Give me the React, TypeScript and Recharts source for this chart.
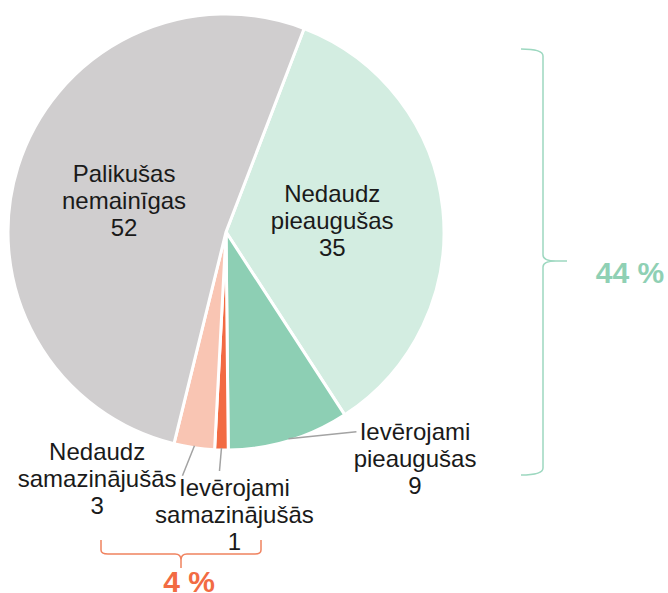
import { Cell, Pie, PieChart } from "recharts"

// Datos del grafico
const names = [
    "Nedaudz pieaugušas",
    "Ievērojami pieaugušas",
    "Ievērojami samazinājušās",
    "Nedaudz samazinājušās",
    "Palikušas nemainīgas",
]
const values = [35, 9, 1, 3, 52]
const COLORS = ['#d3ede1', '#8dcfb4', '#f26b43', '#f9c5b3', '#d0cecf']

const data = names.map((name, i) => ({ name, value: values[i] }))

const growth = values[0] + values[1]
const decline = values[2] + values[3]

// label layout: inside (r = fraction of radius) or outside (offsets from slice edge)
const LAYOUT = [
    { inside: true },
    { inside: false, line: [68, -7], text: [126, -9] },
    { inside: false, line: [-2, 23], text: [13, 38] },
    { inside: false, line: [-12, 30], text: [-97, 4] },
    { inside: true },
]

const RADIAN = Math.PI / 180
const FONT = "'Liberation Sans', Arial, sans-serif"
const LINE_H = 27

const renderLabel = (props: any) => {
    const { cx, cy, midAngle, outerRadius, index, name, value } = props
    const cfg = LAYOUT[index]
    const lines = [...String(name).split(" "), String(value)]
    let x: number, y: number
    if (cfg.inside) {
        const r = outerRadius * 0.49
        x = cx + r * Math.cos(-midAngle * RADIAN)
        y = cy + r * Math.sin(-midAngle * RADIAN) - LINE_H
    } else {
        const ex = cx + outerRadius * Math.cos(-midAngle * RADIAN)
        const ey = cy + outerRadius * Math.sin(-midAngle * RADIAN)
        x = ex + cfg.text![0]
        y = ey + cfg.text![1]
    }
    return (
        <text x={x} y={y} fill="#1a1a1a" fontFamily={FONT} fontSize={24} textAnchor="middle" key={`l-${index}`}>
            {lines.map((l, i) => (
                <tspan key={i} x={x} y={y + i * LINE_H} dominantBaseline="central">{l}</tspan>
            ))}
        </text>
    )
}

const renderLabelLine = (props: any) => {
    const { cx, cy, midAngle, outerRadius, index } = props
    const cfg = LAYOUT[index]
    if (cfg.inside) return <g key={`ll-${index}`} />
    const sx = cx + (outerRadius - 2) * Math.cos(-midAngle * RADIAN)
    const sy = cy + (outerRadius - 2) * Math.sin(-midAngle * RADIAN)
    return (
        <line key={`ll-${index}`} x1={sx} y1={sy} x2={sx + cfg.line![0]} y2={sy + cfg.line![1]}
            stroke="#a3a3a3" strokeWidth={1.5} />
    )
}

export default function App() {
    return (
        <div style={{ position: 'absolute', left: 0, top: 0, width: 668, height: 593, background: '#fff' }}>
            <PieChart width={668} height={593} margin={{ top: 0, right: 0, bottom: 0, left: 0 }}>
                <Pie data={data} dataKey="value" nameKey="name" cx={226} cy={232} outerRadius={218}
                    startAngle={69} endAngle={-291} stroke="#fff" strokeWidth={3}
                    label={renderLabel} labelLine={renderLabelLine} isAnimationActive={false}>
                    {data.map((entry, index) => (
                        <Cell key={`cell-${index}`} fill={COLORS[index]} />
                    ))}
                </Pie>
            </PieChart>
            <svg width={668} height={593} style={{ position: 'absolute', left: 0, top: 0, pointerEvents: 'none' }}>
                {/* green bracket */}
                <path d="M521 49 Q543 49 543 56 L543 255 Q543 261 556 261 L567 261 M556 261 Q543 261 543 267 L543 468 Q543 475 521 475"
                    fill="none" stroke="#9dd8c0" strokeWidth={1.5} />
                <text x={630} y={283} fill="#8fd0b4" fontFamily={FONT} fontSize={30} fontWeight="bold" textAnchor="middle">
                    {`${growth} %`}
                </text>
                {/* orange bracket */}
                <path d="M101 540 L101 550 Q101 554 108 554 L175 554 Q181 554 181 560 L181 568 M181 560 Q181 554 187 554 L255 554 Q261 554 261 550 L261 540"
                    fill="none" stroke="#f0825f" strokeWidth={1.5} />
                <text x={189} y={592} fill="#f26b43" fontFamily={FONT} fontSize={30} fontWeight="bold" textAnchor="middle">
                    {`${decline} %`}
                </text>
            </svg>
        </div>
    )
}
